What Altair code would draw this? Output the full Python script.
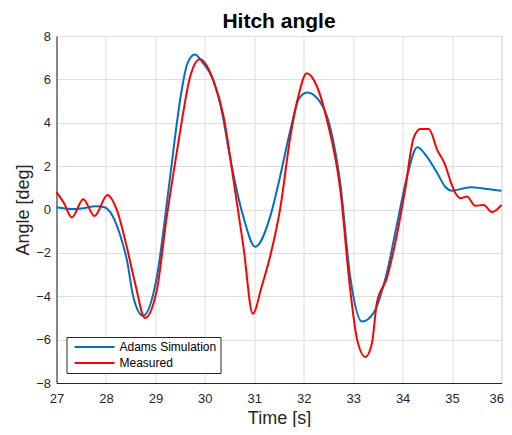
import altair as alt
import pandas as pd

# Adams Simulation (blue)
t_sim = [27.0, 27.3, 27.5, 27.8, 27.95, 28.08, 28.29, 28.43, 28.55, 28.75, 29.03, 29.24,
         29.36, 29.5, 29.65, 29.8, 29.95, 30.17, 30.35, 30.51, 30.78, 31.02, 31.32, 31.52,
         31.73, 31.9, 32.07, 32.33, 32.54, 32.74, 32.94, 33.18, 33.41, 33.68, 33.89, 34.09,
         34.30, 34.49, 34.70, 34.86, 35.0, 35.37, 35.7, 36.0]
v_sim = [0.1, 0.02, 0.05, 0.15, 0.12, -0.1, -1.2, -2.4, -4.0, -4.9, -3.1, 0.44,
         2.65, 5.05, 6.75, 7.15, 6.8, 5.97, 4.45, 2.4, -0.34, -1.72, -0.34, 1.5,
         3.67, 5.1, 5.4, 4.96, 3.75, 1.2, -3.1, -5.17, -4.78, -2.93, -0.63, 1.52,
         2.87, 2.44, 1.68, 1.05, 0.87, 1.03, 0.95, 0.86]

# Measured (red)
t_meas = [27.0, 27.15, 27.31, 27.54, 27.77, 28.03, 28.22, 28.42, 28.59, 28.79, 29.03, 29.23,
          29.36, 29.5, 29.7, 29.9, 30.17, 30.38, 30.58, 30.78, 30.97, 31.15, 31.32, 31.52,
          31.73, 31.9, 32.06, 32.27, 32.47, 32.74, 32.94, 33.08, 33.25, 33.38, 33.48, 33.68,
          33.85, 34.05, 34.22, 34.36, 34.53, 34.7, 34.86, 34.97, 35.07, 35.17, 35.3, 35.47,
          35.64, 35.81, 36.0]
v_meas = [0.8, 0.3, -0.37, 0.47, -0.3, 0.67, -0.02, -1.71, -3.4, -5.0, -3.7, -0.33,
          1.6, 3.6, 6.1, 6.93, 5.97, 4.28, 1.36, -1.7, -4.81, -3.55, -2.17, -0.02,
          3.36, 5.3, 6.28, 5.66, 4.13, 0.9, -3.7, -6.0, -6.8, -6.16, -4.3, -3.17,
          -1.55, 0.9, 3.28, 3.71, 3.71, 2.75, 2.06, 1.3, 0.75, 0.52, 0.6, 0.17,
          0.21, -0.12, 0.21]

series = ["Adams Simulation", "Measured"]
colors = ["#0072BD", "#FF0000"]

df = pd.concat([
    pd.DataFrame({"t": t_sim, "v": v_sim, "s": series[0]}),
    pd.DataFrame({"t": t_meas, "v": v_meas, "s": series[1]}),
])

FONT = "Liberation Sans"

chart = alt.Chart(df).mark_line(strokeWidth=2, interpolate="monotone").encode(
    x=alt.X("t:Q", title="Time [s]",
            scale=alt.Scale(domain=[27, 36], nice=False),
            axis=alt.Axis(values=list(range(27, 37)), format="d", ticks=False,
                          labelPadding=9, titlePadding=4, titleFontSize=18,
                          titleFontWeight="normal",
                          labelAlign={"expr": "datum.value == 36 ? 'right' : 'center'"},
                          labelOffset={"expr": "datum.value == 36 ? 2 : 0"})),
    y=alt.Y("v:Q", title="Angle [deg]",
            scale=alt.Scale(domain=[-8, 8], nice=False),
            axis=alt.Axis(values=list(range(-8, 9, 2)), ticks=False,
                          labelPadding=6, titlePadding=3, titleFontSize=18,
                          titleFontWeight="normal")),
    color=alt.Color("s:N", scale=alt.Scale(domain=series, range=colors),
                    legend=alt.Legend(title=None, orient="bottom-left", offset=10,
                                      symbolType="M-1,0H19", symbolSize=16,
                                      symbolStrokeWidth=2, labelFontSize=12,
                                      labelFont=FONT, labelColor="#000000",
                                      strokeColor="#262626", fillColor="white",
                                      padding=4, rowPadding=4, labelOffset=37)),
    order=alt.Order("t:Q"),
).properties(
    width=445, height=347,
    title=alt.TitleParams("Hitch angle", fontSize=21, font=FONT, fontWeight="bold",
                          color="#000000", offset=-2),
    autosize=alt.AutoSizeParams(type="none"),
    padding={"left": 48.5, "top": 28, "right": 2.5, "bottom": 44},
).configure_axis(
    labelFont=FONT, titleFont=FONT, labelFontSize=13, labelColor="#262626",
    titleColor="#262626", domainColor="#262626", gridColor="#dedede",
).configure_view(stroke="#dedede")

chart.save("out.html", embed_options={"renderer": "svg", "actions": False})
